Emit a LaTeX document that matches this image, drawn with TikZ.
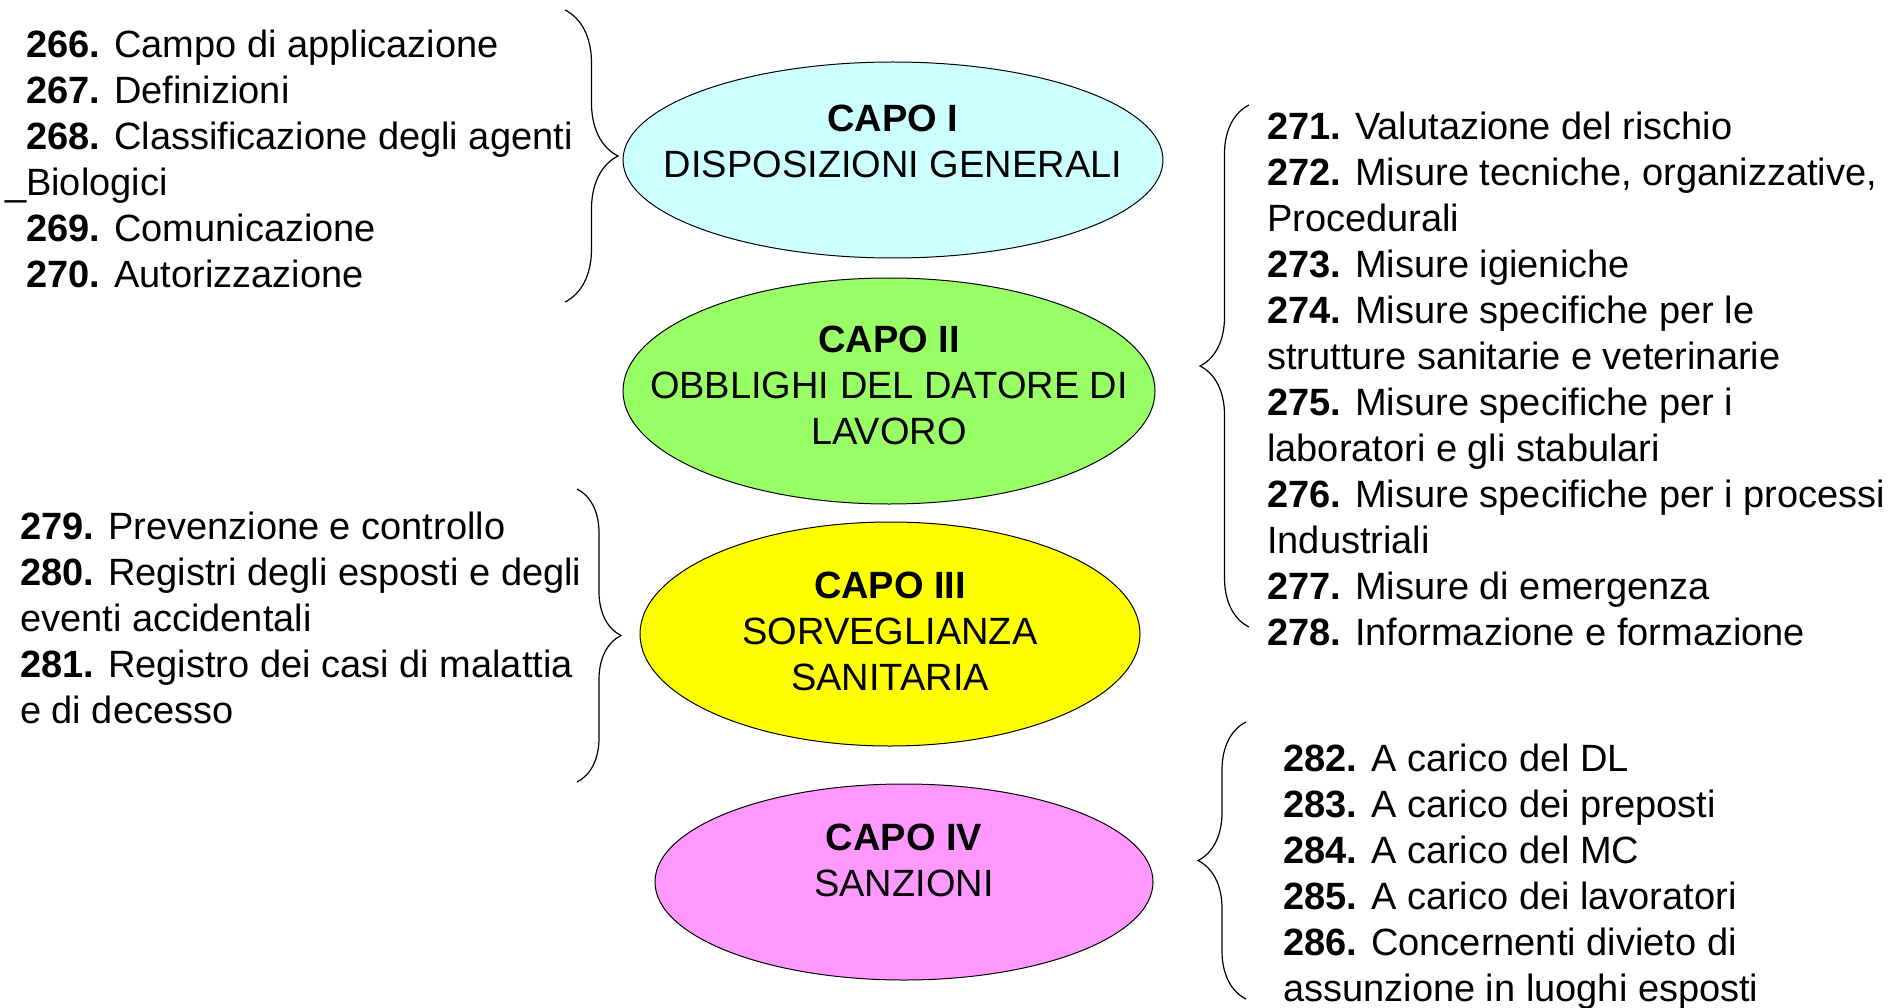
\documentclass[tikz,border=0pt]{standalone}
\usepackage{fontspec}
\setmainfont{Liberation Sans}
\usepackage{xcolor}
\usetikzlibrary{shapes.geometric,decorations.pathreplacing}

\definecolor{capoazzurro}{HTML}{CCFFFF}
\definecolor{capoverde}{HTML}{99FF66}
\definecolor{capogiallo}{HTML}{FFFF00}
\definecolor{caporosa}{HTML}{FF99FF}

\tikzset{
  capo/.style={ellipse, draw=black, line width=1pt, inner sep=0pt},
  capotesto/.style={inner sep=0pt, align=center, font=\fontsize{38}{46}\selectfont},
  voci/.style={anchor=north west, inner sep=0pt, align=left,
    font=\fontsize{38}{46}\selectfont},
  graffa/.style={decorate, decoration={brace, amplitude=#1}, line width=1.2pt},
}
\newcommand{\art}[1]{\textbf{#1.}}

\begin{document}
\begin{tikzpicture}[x=1pt, y=1pt]
    \useasboundingbox (0,0) rectangle (1892,-1008);
    % i quattro capi
    \node[capo, fill=capoazzurro, minimum width=540, minimum height=196] (capoI) at (893,-160) {};
    \node[capo, fill=capoverde, minimum width=532, minimum height=226] (capoII) at (889,-391) {};
    \node[capo, fill=capogiallo, minimum width=500, minimum height=224] (capoIII) at (890,-634) {};
    \node[capo, fill=caporosa, minimum width=498, minimum height=196] (capoIV) at (904,-882) {};
    \node[capotesto] (titoloI) at ([yshift=19]capoI.center) {\textbf{CAPO I}\\DISPOSIZIONI GENERALI};
    \node[capotesto] (titoloII) at ([yshift=6]capoII.center) {\textbf{CAPO II}\\OBBLIGHI DEL DATORE DI\\LAVORO};
    \node[capotesto] (titoloIII) at ([yshift=3]capoIII.center) {\textbf{CAPO III}\\SORVEGLIANZA\\SANITARIA};
    \node[capotesto] (titoloIV) at ([yshift=22]capoIV.center) {\textbf{CAPO IV}\\SANZIONI};
    % articoli
    \node[voci] (art266) at (26,-30) {\art{266} Campo di applicazione\\
        \art{267} Definizioni\\
        \art{268} Classificazione degli agenti\\
        \llap{\_}Biologici\\
        \art{269} Comunicazione\\
        \art{270} Autorizzazione};
    \node[voci] (art279) at (20,-512) {\art{279} Prevenzione e controllo\\
        \art{280} Registri degli esposti e degli\\
        eventi accidentali\\
        \art{281} Registro dei casi di malattia\\
        e di decesso};
    \node[voci] (art271) at (1267,-112) {\art{271} Valutazione del rischio\\
        \art{272} Misure tecniche, organizzative,\\
        Procedurali\\
        \art{273} Misure igieniche\\
        \art{274} Misure specifiche per le\\
        strutture sanitarie e veterinarie\\
        \art{275} Misure specifiche per i\\
        laboratori e gli stabulari\\
        \art{276} Misure specifiche per i processi\\
        Industriali\\
        \art{277} Misure di emergenza\\
        \art{278} Informazione e formazione};
    \node[voci] (art282) at (1283,-744) {\art{282} A carico del DL\\
        \art{283} A carico dei preposti\\
        \art{284} A carico del MC\\
        \art{285} A carico dei lavoratori\\
        \art{286} Concernenti divieto di\\
        assunzione in luoghi esposti};
    % graffe
    \draw[graffa=53] (565,-10) -- (565,-302);
    \draw[graffa=44] (577,-489) -- (577,-782);
    \draw[graffa=49] (1249,-627) -- (1249,-105);
    \draw[graffa=48] (1246,-999) -- (1246,-722);
\end{tikzpicture}
\end{document}
